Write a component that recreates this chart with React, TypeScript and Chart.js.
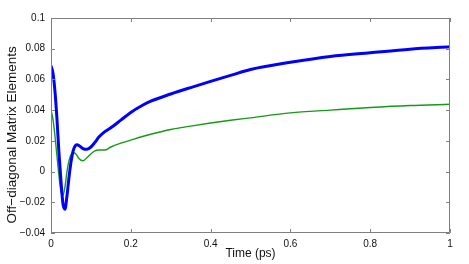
import React, { useEffect, useRef } from "react";
import { Chart, registerables } from "chart.js";

Chart.register(...registerables);

// Time axis (ps)
const timePs = [
  0, 0.005, 0.01, 0.015, 0.02, 0.025, 0.03, 0.035, 0.04, 0.045, 0.05, 0.055,
  0.06, 0.065, 0.07, 0.08, 0.09, 0.1, 0.11, 0.12, 0.135, 0.15, 0.175, 0.2,
  0.225, 0.25, 0.3, 0.35, 0.4, 0.45, 0.5, 0.6, 0.7, 0.8, 0.9, 1.0,
];

// Blue (thick) series
const blueSeries = [
  0.069, 0.064, 0.052, 0.034, 0.012, -0.006, -0.021, -0.0245, -0.016, -0.004,
  0.006, 0.013, 0.0165, 0.0175, 0.017, 0.015, 0.0145, 0.016, 0.019, 0.0225,
  0.026, 0.0285, 0.0335, 0.0385, 0.0425, 0.0458, 0.0505, 0.0547, 0.0587,
  0.0626, 0.0665, 0.0712, 0.075, 0.0774, 0.0797, 0.0812,
];

// Green (thin) series
const greenSeries = [
  0.04, 0.034, 0.023, 0.01, -0.003, -0.013, -0.0155, -0.01, 0.0, 0.007, 0.011,
  0.0125, 0.012, 0.0105, 0.0085, 0.007, 0.009, 0.0115, 0.0135, 0.014, 0.014,
  0.016, 0.0185, 0.0205, 0.0225, 0.0243, 0.0274, 0.0296, 0.0316, 0.0334,
  0.035, 0.0382, 0.04, 0.0417, 0.043, 0.0438,
];

const xTicks = [0, 0.2, 0.4, 0.6, 0.8, 1];
const yTicks = [-0.04, -0.02, 0, 0.02, 0.04, 0.06, 0.08, 0.1];

const xTitle = "Time (ps)";
const yTitle = "Off\u2212diagonal Matrix Elements\u00a0\u00a0\u00a0\u00a0\u00a0";

const AXIS_COLOR = "#7f7f7f";
const FONT = "'Liberation Sans', Arial, Helvetica, sans-serif";

function fmt(v: number): string {
  const s = Number(v.toFixed(4)).toString();
  return s.replace("-", "\u2212");
}

const boxPlugin = {
  id: "matlabBox",
  afterDraw(chart: any) {
    const { ctx, chartArea, scales } = chart;
    const { left, right, top, bottom } = chartArea;
    ctx.save();
    ctx.strokeStyle = AXIS_COLOR;
    ctx.lineWidth = 1;
    ctx.beginPath();
    ctx.rect(left + 0.5, top + 0.5, right - left - 1, bottom - top - 1);
    ctx.stroke();
    const len = 4;
    ctx.beginPath();
    xTicks.forEach((t) => {
      const px = Math.round(scales.x.getPixelForValue(t)) + 0.5;
      ctx.moveTo(px, bottom);
      ctx.lineTo(px, bottom - len);
      ctx.moveTo(px, top);
      ctx.lineTo(px, top + len);
    });
    yTicks.forEach((t) => {
      const py = Math.round(scales.y.getPixelForValue(t)) + 0.5;
      ctx.moveTo(left, py);
      ctx.lineTo(left + len, py);
      ctx.moveTo(right, py);
      ctx.lineTo(right - len, py);
    });
    ctx.stroke();
    ctx.restore();
  },
};

export default function App() {
  const canvasRef = useRef<HTMLCanvasElement | null>(null);

  useEffect(() => {
    if (!canvasRef.current) return;
    const chart = new Chart(canvasRef.current, {
      type: "line",
      data: {
        datasets: [
          {
            label: "blue",
            data: timePs.map((t, i) => ({ x: t, y: blueSeries[i] })),
            borderColor: "#0000ff",
            borderWidth: 3,
            pointRadius: 0,
            cubicInterpolationMode: "monotone",
            fill: false,
          },
          {
            label: "green",
            data: timePs.map((t, i) => ({ x: t, y: greenSeries[i] })),
            borderColor: "#159a15",
            borderWidth: 1.4,
            pointRadius: 0,
            cubicInterpolationMode: "monotone",
            fill: false,
          },
        ],
      },
      options: {
        responsive: false,
        animation: false,
        layout: { padding: { top: 18, right: 19, left: 0, bottom: 0 } },
        plugins: {
          legend: { display: false },
          tooltip: { enabled: false },
        },
        scales: {
          x: {
            type: "linear",
            min: 0,
            max: 1,
            afterFit: (s: any) => {
              s.height = 31;
            },
            afterBuildTicks: (s: any) => {
              s.ticks = xTicks.map((v) => ({ value: v }));
            },
            grid: { display: false, drawTicks: false },
            border: { display: false },
            ticks: {
              padding: 5,
              maxRotation: 0,
              autoSkip: false,
              color: "#111",
              font: { family: FONT, size: 10 },
              callback: (v: any) => fmt(Number(v)),
            },
            title: {
              display: true,
              text: xTitle,
              color: "#111",
              font: { family: FONT, size: 12 },
              padding: { top: 0, bottom: 3 },
            },
          },
          y: {
            type: "linear",
            min: -0.04,
            max: 0.1,
            afterFit: (s: any) => {
              s.width = 51;
            },
            afterBuildTicks: (s: any) => {
              s.ticks = yTicks.map((v) => ({ value: v }));
            },
            grid: { display: false, drawTicks: false },
            border: { display: false },
            ticks: {
              padding: 6,
              autoSkip: false,
              color: "#111",
              font: { family: FONT, size: 10 },
              callback: (v: any) => fmt(Number(v)),
            },
            title: {
              display: true,
              text: yTitle,
              color: "#111",
              font: { family: FONT, size: 13.5 },
              padding: { top: 4, bottom: 0 },
            },
          },
        },
      },
      plugins: [boxPlugin],
    });
    return () => chart.destroy();
  }, []);

  return (
    <div
      style={{
        position: "fixed",
        left: 0,
        top: 0,
        width: 469,
        height: 264,
        background: "#fff",
      }}
    >
      <canvas ref={canvasRef} width={469} height={264} />
    </div>
  );
}
